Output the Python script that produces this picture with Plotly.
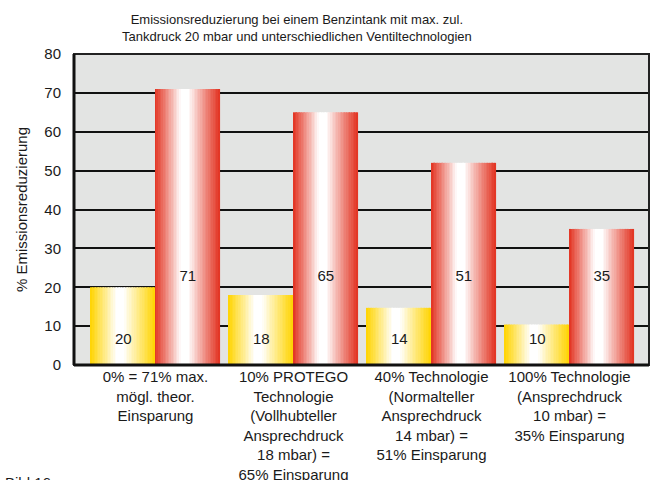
import numpy as np
import plotly.graph_objects as go

# ---------------- data ----------------
categories = [
    "0% = 71% max.<br>mögl. theor.<br>Einsparung",
    "10% PROTEGO<br>Technologie<br>(Vollhubteller<br>Ansprechdruck<br>18 mbar) =<br>65% Einsparung",
    "40% Technologie<br>(Normalteller<br>Ansprechdruck<br>14 mbar) =<br>51% Einsparung",
    "100% Technologie<br>(Ansprechdruck<br>10 mbar) =<br>35% Einsparung",
]
yellow_values = [20, 18, 14.7, 10.4]
red_values = [71, 65, 52, 35]
yellow_labels = ["20", "18", "14", "10"]
red_labels = ["71", "65", "51", "35"]
y_ticks = [0, 10, 20, 30, 40, 50, 60, 70, 80]
title_lines = [
    "Emissionsreduzierung bei einem Benzintank mit max. zul.",
    "Tankdruck 20 mbar und unterschiedlichen Ventiltechnologien",
]
y_title = "% Emissionsreduzierung"
footer = "Bild 16"

# ---------------- style ----------------
FONT = "Liberation Sans, Arial, sans-serif"
TXT = "#1a1a1a"
BAR_W = 0.467
N_STRIPS = 40
YELLOW = np.array([255, 212, 0])
RED = np.array([226, 50, 32])
WHITE = np.array([255, 255, 255])

def grad_color(edge, t, white_at=0.46, plateau=0.06):
    if t < white_at:
        d = max(0.0, (white_at - plateau - t) / (white_at - plateau))
    else:
        d = max(0.0, (t - white_at - plateau) / (1 - white_at - plateau))
    m = min(1.0, d ** 0.95)
    c = WHITE * (1 - m) + edge * m
    return "rgb(%d,%d,%d)" % tuple(int(round(v)) for v in c)

idx = np.arange(len(categories))
fig = go.Figure()
sw = BAR_W / N_STRIPS

for values, edge, side in [(yellow_values, YELLOW, -1), (red_values, RED, 0)]:
    for j in range(N_STRIPS):
        t = (j + 0.5) / N_STRIPS
        start = idx + (-BAR_W if side == -1 else 0.0)
        fig.add_trace(go.Bar(
            x=start + (j + 0.5) * sw,
            y=values,
            width=sw * 1.15,
            marker=dict(color=grad_color(edge, t), line=dict(width=0)),
            opacity=1,
            hoverinfo="skip",
            showlegend=False,
        ))

# value labels at fixed heights
fig.add_trace(go.Scatter(
    x=idx - BAR_W / 2, y=[6.3] * len(idx), text=yellow_labels, mode="text",
    textfont=dict(family=FONT, size=15, color=TXT), hoverinfo="skip", showlegend=False))
fig.add_trace(go.Scatter(
    x=idx + BAR_W / 2, y=[22.6] * len(idx), text=red_labels, mode="text",
    textfont=dict(family=FONT, size=15, color=TXT), hoverinfo="skip", showlegend=False))

W, H = 655, 480
L, R, T, B = 74, 6, 54, 115
pw, ph = W - L - R, H - T - B

fig.update_layout(
    template="none",
    width=W, height=H,
    margin=dict(l=L, r=R, t=T, b=B, pad=0, autoexpand=False),
    paper_bgcolor="white",
    plot_bgcolor="#E3E4E3",
    barmode="overlay",
    font=dict(family=FONT, color=TXT, size=15),
    xaxis=dict(
        range=[-0.5906, 3.576], automargin=False,
        tickmode="array", tickvals=list(idx), ticktext=categories,
        showgrid=False, zeroline=False, showline=False,
        tickfont=dict(size=15, family=FONT, color=TXT),
        ticks="", ticklabelstandoff=1,
        fixedrange=True,
    ),
    yaxis=dict(
        range=[0, 80], automargin=False,
        tickmode="array", tickvals=y_ticks, ticktext=[str(v) for v in y_ticks],
        showgrid=True, gridcolor="#111111", gridwidth=2,
        zeroline=False, showline=False,
        tickfont=dict(size=15, family=FONT, color=TXT),
        ticks="", ticklabelstandoff=12,
        title=dict(text=y_title, font=dict(size=15, family=FONT, color=TXT), standoff=13),
        fixedrange=True,
    ),
    shapes=[
        dict(type="rect", xref="paper", yref="paper", x0=0, y0=0, x1=1, y1=1,
             line=dict(color="#222222", width=2), fillcolor="rgba(0,0,0,0)", layer="above"),
        dict(type="line", xref="paper", yref="paper", x0=0, y0=0, x1=0, y1=1,
             line=dict(color="#111111", width=3), layer="above"),
        dict(type="line", xref="paper", yref="paper", x0=0, y0=0, x1=1, y1=0,
             line=dict(color="#111111", width=3), layer="above"),
    ],
    annotations=[
        dict(text="<br>".join(title_lines), xref="paper", yref="paper",
             x=(297 - L) / pw, y=(H - B - 28) / ph, xanchor="center", yanchor="middle",
             showarrow=False, font=dict(size=13, family=FONT, color=TXT)),
        dict(text=footer, xref="paper", yref="paper",
             x=(3 - L) / pw, y=(H - B - 472) / ph, xanchor="left", yanchor="top",
             showarrow=False, font=dict(size=15, family=FONT, color=TXT)),
    ],
)

fig.write_html(
    "out.html",
    config={"displayModeBar": False},
    post_script="document.body.style.margin='0';document.body.style.overflow='hidden';",
)
